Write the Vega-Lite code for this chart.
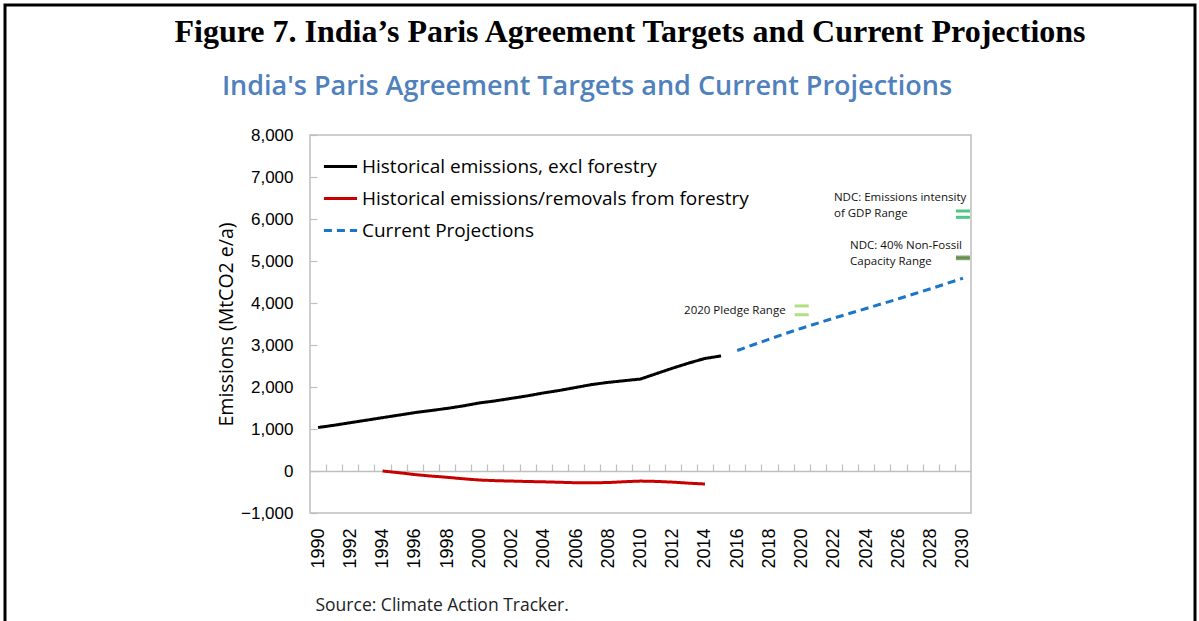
{
  "$schema": "https://vega.github.io/schema/vega-lite/v6.json",
  "width": 1190,
  "height": 640,
  "autosize": {"type": "none"},
  "padding": {"left": 5, "top": 5, "right": 4, "bottom": 0},
  "background": "white",
  "config": {"view": {"stroke": "#000", "strokeWidth": 3}, "font": "Open Sans"},
  "title": {
    "text": "Figure 7. India’s Paris Agreement Targets and Current Projections",
    "anchor": "middle",
    "frame": "group",
    "dx": 30,
    "offset": -44,
    "font": "Liberation Serif",
    "fontSize": 32,
    "fontWeight": "bold",
    "color": "#000000"
  },
  "datasets": {
    "chartTitle": [
      {"text": "India's Paris Agreement Targets and Current Projections", "year": 2006.68, "value": 8952}
    ],
    "emissions": [
      {"series": "Historical emissions, excl forestry", "year": 1990, "value": 1035},
      {"series": "Historical emissions, excl forestry", "year": 1991, "value": 1090},
      {"series": "Historical emissions, excl forestry", "year": 1992, "value": 1150},
      {"series": "Historical emissions, excl forestry", "year": 1993, "value": 1210},
      {"series": "Historical emissions, excl forestry", "year": 1994, "value": 1270},
      {"series": "Historical emissions, excl forestry", "year": 1995, "value": 1330},
      {"series": "Historical emissions, excl forestry", "year": 1996, "value": 1390},
      {"series": "Historical emissions, excl forestry", "year": 1997, "value": 1440},
      {"series": "Historical emissions, excl forestry", "year": 1998, "value": 1490},
      {"series": "Historical emissions, excl forestry", "year": 1999, "value": 1550},
      {"series": "Historical emissions, excl forestry", "year": 2000, "value": 1620},
      {"series": "Historical emissions, excl forestry", "year": 2001, "value": 1670},
      {"series": "Historical emissions, excl forestry", "year": 2002, "value": 1730},
      {"series": "Historical emissions, excl forestry", "year": 2003, "value": 1790},
      {"series": "Historical emissions, excl forestry", "year": 2004, "value": 1860},
      {"series": "Historical emissions, excl forestry", "year": 2005, "value": 1920},
      {"series": "Historical emissions, excl forestry", "year": 2006, "value": 1990},
      {"series": "Historical emissions, excl forestry", "year": 2007, "value": 2060},
      {"series": "Historical emissions, excl forestry", "year": 2008, "value": 2110},
      {"series": "Historical emissions, excl forestry", "year": 2009, "value": 2150},
      {"series": "Historical emissions, excl forestry", "year": 2010, "value": 2190},
      {"series": "Historical emissions, excl forestry", "year": 2011, "value": 2320},
      {"series": "Historical emissions, excl forestry", "year": 2012, "value": 2450},
      {"series": "Historical emissions, excl forestry", "year": 2013, "value": 2570},
      {"series": "Historical emissions, excl forestry", "year": 2014, "value": 2680},
      {"series": "Historical emissions, excl forestry", "year": 2015, "value": 2740},
      {"series": "Historical emissions/removals from forestry", "year": 1994, "value": 0},
      {"series": "Historical emissions/removals from forestry", "year": 1995, "value": -40},
      {"series": "Historical emissions/removals from forestry", "year": 1996, "value": -85},
      {"series": "Historical emissions/removals from forestry", "year": 1997, "value": -120},
      {"series": "Historical emissions/removals from forestry", "year": 1998, "value": -150},
      {"series": "Historical emissions/removals from forestry", "year": 1999, "value": -185},
      {"series": "Historical emissions/removals from forestry", "year": 2000, "value": -215},
      {"series": "Historical emissions/removals from forestry", "year": 2001, "value": -230},
      {"series": "Historical emissions/removals from forestry", "year": 2002, "value": -240},
      {"series": "Historical emissions/removals from forestry", "year": 2003, "value": -250},
      {"series": "Historical emissions/removals from forestry", "year": 2004, "value": -258},
      {"series": "Historical emissions/removals from forestry", "year": 2005, "value": -268},
      {"series": "Historical emissions/removals from forestry", "year": 2006, "value": -280},
      {"series": "Historical emissions/removals from forestry", "year": 2007, "value": -280},
      {"series": "Historical emissions/removals from forestry", "year": 2008, "value": -275},
      {"series": "Historical emissions/removals from forestry", "year": 2009, "value": -255},
      {"series": "Historical emissions/removals from forestry", "year": 2010, "value": -240},
      {"series": "Historical emissions/removals from forestry", "year": 2011, "value": -248},
      {"series": "Historical emissions/removals from forestry", "year": 2012, "value": -265},
      {"series": "Historical emissions/removals from forestry", "year": 2013, "value": -290},
      {"series": "Historical emissions/removals from forestry", "year": 2014, "value": -310},
      {"series": "Current Projections", "year": 2016, "value": 2870},
      {"series": "Current Projections", "year": 2017, "value": 3005},
      {"series": "Current Projections", "year": 2018, "value": 3140},
      {"series": "Current Projections", "year": 2019, "value": 3275},
      {"series": "Current Projections", "year": 2020, "value": 3400},
      {"series": "Current Projections", "year": 2021, "value": 3520},
      {"series": "Current Projections", "year": 2022, "value": 3640},
      {"series": "Current Projections", "year": 2023, "value": 3755},
      {"series": "Current Projections", "year": 2024, "value": 3870},
      {"series": "Current Projections", "year": 2025, "value": 3985},
      {"series": "Current Projections", "year": 2026, "value": 4100},
      {"series": "Current Projections", "year": 2027, "value": 4220},
      {"series": "Current Projections", "year": 2028, "value": 4340},
      {"series": "Current Projections", "year": 2029, "value": 4465},
      {"series": "Current Projections", "year": 2030, "value": 4590}
    ],
    "targets": [
      {"target": "2020 Pledge Range", "year": 2020, "value": 3930},
      {"target": "2020 Pledge Range", "year": 2020, "value": 3720},
      {"target": "NDC: Emissions intensity of GDP Range", "year": 2030, "value": 6190},
      {"target": "NDC: Emissions intensity of GDP Range", "year": 2030, "value": 6040},
      {"target": "NDC: 40% Non-Fossil Capacity Range", "year": 2030, "value": 5095},
      {"target": "NDC: 40% Non-Fossil Capacity Range", "year": 2030, "value": 5055}
    ],
    "labels": [
      {"label": "2020 Pledge Range", "year": 2019, "value": 3820},
      {"label": "NDC: Emissions intensity\nof GDP Range", "year": 2022, "value": 6430},
      {"label": "NDC: 40% Non-Fossil\nCapacity Range", "year": 2023, "value": 5290}
    ]
  },
  "layer": [
    {
      "data": {"values": [{}]},
      "mark": {"type": "rect", "filled": false, "stroke": "#BFBFBF", "strokeWidth": 1.5},
      "encoding": {
        "x": {
          "datum": 1989.5,
          "type": "quantitative",
          "scale": {"domain": [1989.5, 2030.5], "range": [305, 966], "nice": false, "zero": false},
          "axis": {
            "orient": "top",
            "offset": -466,
            "values": [1990.5, 1991.5, 1992.5, 1993.5, 1994.5, 1995.5, 1996.5, 1997.5, 1998.5, 1999.5, 2000.5, 2001.5, 2002.5, 2003.5, 2004.5, 2005.5, 2006.5, 2007.5, 2008.5, 2009.5, 2010.5, 2011.5, 2012.5, 2013.5, 2014.5, 2015.5, 2016.5, 2017.5, 2018.5, 2019.5, 2020.5, 2021.5, 2022.5, 2023.5, 2024.5, 2025.5, 2026.5, 2027.5, 2028.5, 2029.5],
            "labels": false,
            "ticks": true,
            "tickSize": 7,
            "tickColor": "#BFBFBF",
            "tickWidth": 1.2,
            "domain": true,
            "domainColor": "#BFBFBF",
            "domainWidth": 1.5,
            "grid": false,
            "title": null
          }
        },
        "x2": {"datum": 2030.5},
        "y": {
          "datum": -1000,
          "type": "quantitative",
          "scale": {"domain": [-1000, 8000], "range": [508, 130], "nice": false, "zero": false},
          "axis": {
            "orient": "right",
            "offset": -885,
            "values": [-1000, 0, 1000, 2000, 3000, 4000, 5000, 6000, 7000, 8000],
            "labels": false,
            "ticks": true,
            "tickSize": 7,
            "tickColor": "#BFBFBF",
            "tickWidth": 1.2,
            "domain": false,
            "grid": false,
            "title": null
          }
        },
        "y2": {"datum": 8000}
      }
    },
    {
      "data": {"name": "chartTitle"},
      "mark": {"type": "text", "align": "center", "baseline": "alphabetic", "font": "Open Sans", "fontSize": 27, "fontWeight": 600, "color": "#4F81BD"},
      "encoding": {
        "x": {"field": "year", "type": "quantitative", "axis": null},
        "y": {"field": "value", "type": "quantitative", "axis": null},
        "text": {"field": "text", "type": "nominal"}
      }
    },
    {
      "data": {"name": "emissions"},
      "mark": {"type": "line", "strokeWidth": 3},
      "encoding": {
        "x": {
          "field": "year",
          "type": "quantitative",
          "axis": {
            "orient": "bottom",
            "offset": -132,
            "values": [1990, 1992, 1994, 1996, 1998, 2000, 2002, 2004, 2006, 2008, 2010, 2012, 2014, 2016, 2018, 2020, 2022, 2024, 2026, 2028, 2030],
            "format": "d",
            "labelAngle": -90,
            "labelFont": "Liberation Sans",
            "labelFontSize": 18,
            "labelColor": "#000000",
            "labelPadding": 15,
            "labelFlush": false,
            "labelOverlap": false,
            "ticks": false,
            "domain": false,
            "grid": false,
            "title": "Source: Climate Action Tracker.",
            "titleAnchor": "start",
            "titleAlign": "left",
            "titleX": 310,
            "titleFont": "Open Sans",
            "titleFontSize": 17.5,
            "titleFontWeight": "normal",
            "titleColor": "#222222",
            "titlePadding": 28
          }
        },
        "y": {
          "field": "value",
          "type": "quantitative",
          "axis": {
            "orient": "left",
            "offset": -305,
            "values": [-1000, 0, 1000, 2000, 3000, 4000, 5000, 6000, 7000, 8000],
            "format": ",.0f",
            "labelFont": "Liberation Sans",
            "labelFontSize": 17,
            "labelColor": "#000000",
            "labelPadding": 17,
            "labelFlush": false,
            "labelOverlap": false,
            "ticks": false,
            "domain": false,
            "grid": false,
            "title": "Emissions (MtCO2 e/a)",
            "titleFont": "Open Sans",
            "titleFontSize": 19.5,
            "titleFontWeight": "normal",
            "titleColor": "#000000",
            "titlePadding": 4
          }
        },
        "color": {
          "field": "series",
          "type": "nominal",
          "scale": {
            "domain": ["Historical emissions, excl forestry", "Historical emissions/removals from forestry", "Current Projections"],
            "range": ["#000000", "#C80000", "#1B75C8"]
          },
          "legend": {
            "orient": "none",
            "legendX": 317,
            "legendY": 143,
            "title": null,
            "symbolType": "stroke",
            "symbolSize": 1100,
            "symbolStrokeWidth": 3,
            "labelFont": "Open Sans",
            "labelFontSize": 19,
            "labelColor": "#000000",
            "labelOffset": 3,
            "labelLimit": 600,
            "rowPadding": 3,
            "padding": 0
          }
        },
        "strokeDash": {
          "field": "series",
          "type": "nominal",
          "scale": {
            "domain": ["Historical emissions, excl forestry", "Historical emissions/removals from forestry", "Current Projections"],
            "range": [[1, 0], [1, 0], [8, 5]]
          },
          "legend": {
            "orient": "none",
            "legendX": 317,
            "legendY": 143,
            "title": null,
            "symbolType": "stroke",
            "symbolSize": 1100,
            "symbolStrokeWidth": 3,
            "labelFont": "Open Sans",
            "labelFontSize": 19,
            "labelColor": "#000000",
            "labelOffset": 3,
            "labelLimit": 600,
            "rowPadding": 3,
            "padding": 0
          }
        }
      }
    },
    {
      "data": {"name": "targets"},
      "transform": [{"filter": "datum.target === '2020 Pledge Range'"}],
      "mark": {"type": "tick", "orient": "horizontal", "size": 14, "thickness": 3, "color": "#92D050"},
      "encoding": {
        "x": {"field": "year", "type": "quantitative", "axis": null},
        "y": {"field": "value", "type": "quantitative", "axis": null}
      }
    },
    {
      "data": {"name": "targets"},
      "transform": [{"filter": "datum.target === 'NDC: Emissions intensity of GDP Range'"}],
      "mark": {"type": "tick", "orient": "horizontal", "size": 14, "thickness": 3, "color": "#00B050"},
      "encoding": {
        "x": {"field": "year", "type": "quantitative", "axis": null},
        "y": {"field": "value", "type": "quantitative", "axis": null}
      }
    },
    {
      "data": {"name": "targets"},
      "transform": [{"filter": "datum.target === 'NDC: 40% Non-Fossil Capacity Range'"}],
      "mark": {"type": "tick", "orient": "horizontal", "size": 14, "thickness": 3, "color": "#4E7B2E"},
      "encoding": {
        "x": {"field": "year", "type": "quantitative", "axis": null},
        "y": {"field": "value", "type": "quantitative", "axis": null}
      }
    },
    {
      "data": {"name": "labels"},
      "transform": [{"filter": "datum.label === '2020 Pledge Range'"}],
      "mark": {"type": "text", "align": "right", "baseline": "middle", "font": "Open Sans", "fontSize": 11.5, "color": "#111111"},
      "encoding": {
        "x": {"field": "year", "type": "quantitative", "axis": null},
        "y": {"field": "value", "type": "quantitative", "axis": null},
        "text": {"field": "label", "type": "nominal"}
      }
    },
    {
      "data": {"name": "labels"},
      "transform": [{"filter": "datum.label !== '2020 Pledge Range'"}],
      "mark": {"type": "text", "align": "left", "baseline": "alphabetic", "font": "Open Sans", "fontSize": 11.5, "lineBreak": "\n", "lineHeight": 16, "color": "#111111"},
      "encoding": {
        "x": {"field": "year", "type": "quantitative", "axis": null},
        "y": {"field": "value", "type": "quantitative", "axis": null},
        "text": {"field": "label", "type": "nominal"}
      }
    }
  ],
  "resolve": {"axis": {"x": "independent", "y": "independent"}}
}
